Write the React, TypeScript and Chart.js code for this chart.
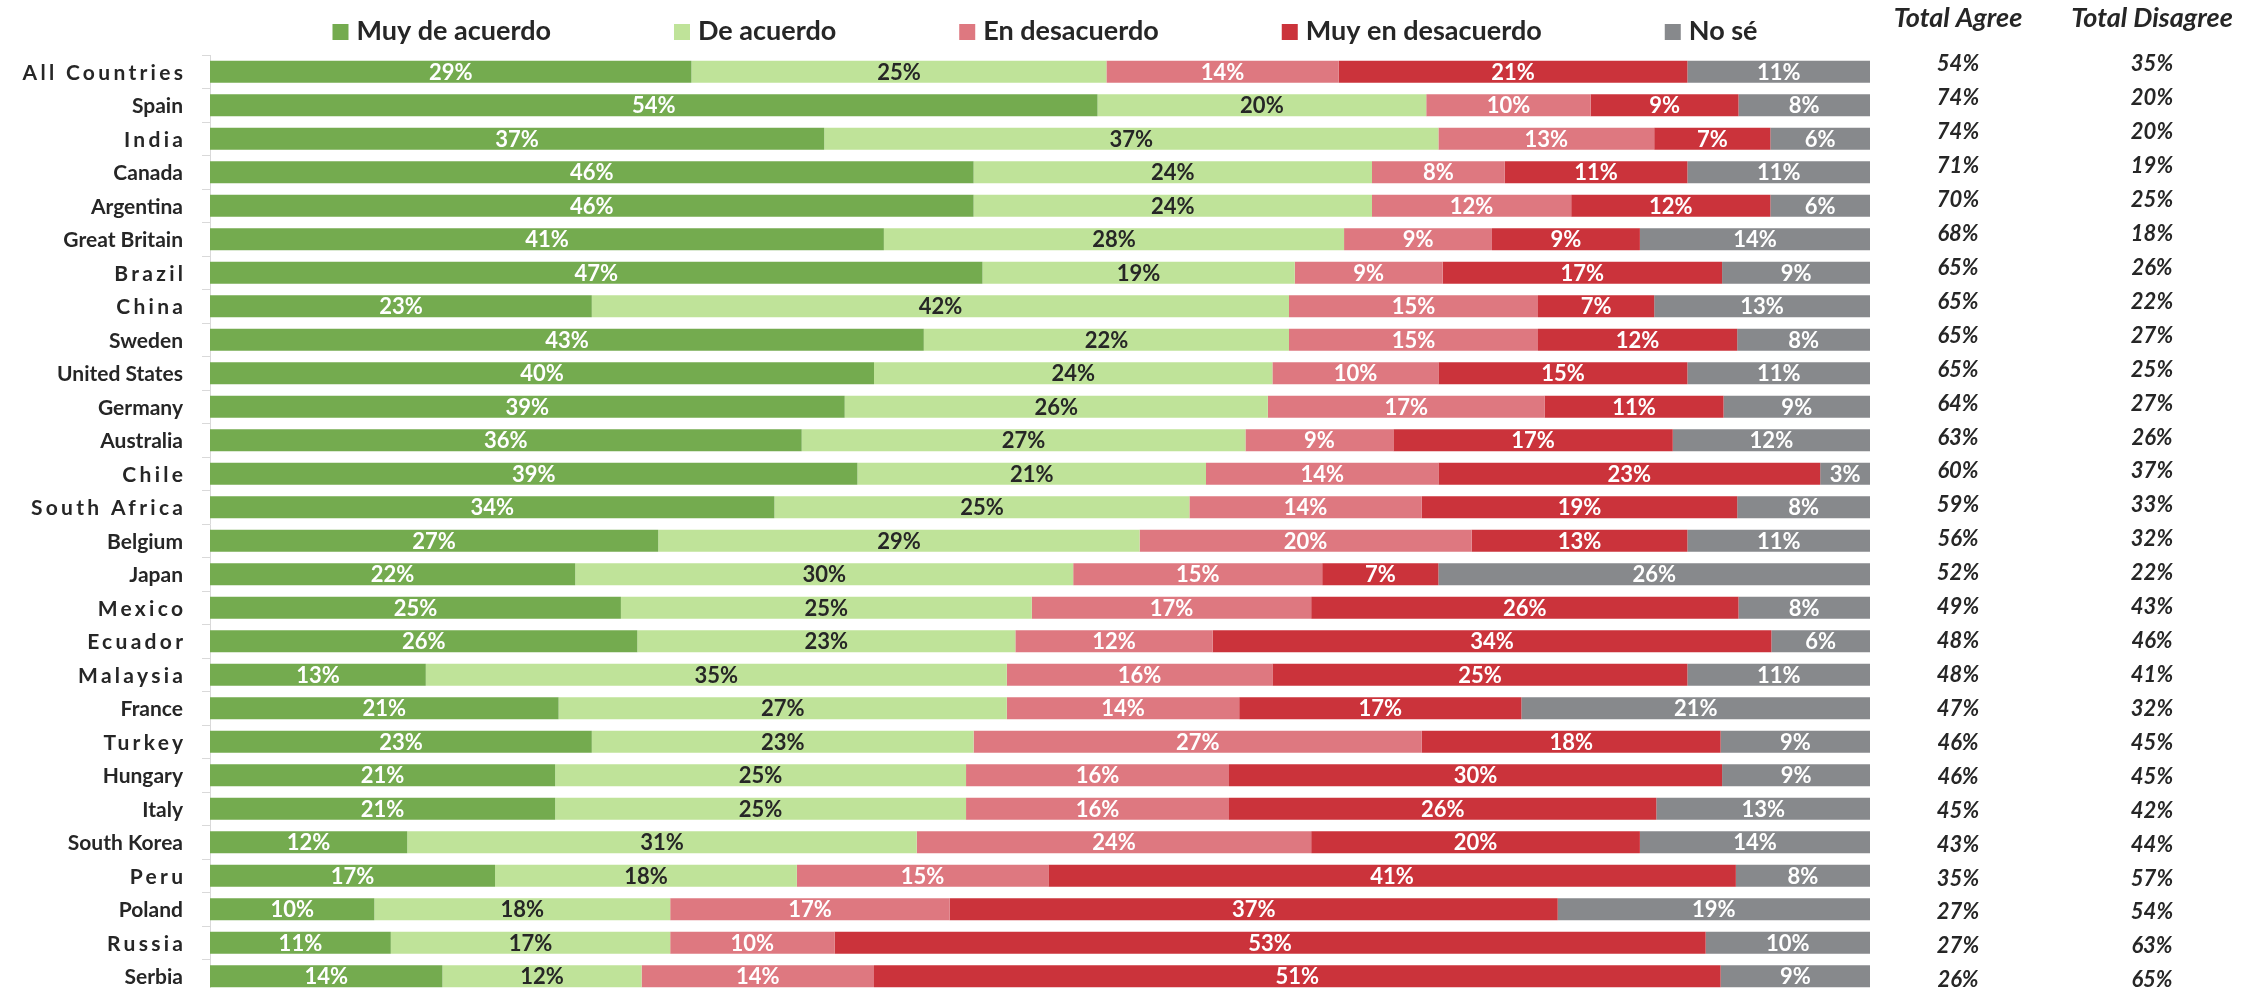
import React, { useEffect, useRef } from 'react';
import { Chart, registerables } from 'chart.js';

Chart.register(...registerables);

const countries = [
  'All Countries', 'Spain', 'India', 'Canada', 'Argentina', 'Great Britain', 'Brazil', 'China',
  'Sweden', 'United States', 'Germany', 'Australia', 'Chile', 'South Africa', 'Belgium', 'Japan',
  'Mexico', 'Ecuador', 'Malaysia', 'France', 'Turkey', 'Hungary', 'Italy', 'South Korea', 'Peru',
  'Poland', 'Russia', 'Serbia',
];
const muyDeAcuerdo = [29, 54, 37, 46, 46, 41, 47, 23, 43, 40, 39, 36, 39, 34, 27, 22, 25, 26, 13, 21, 23, 21, 21, 12, 17, 10, 11, 14];
const deAcuerdo = [25, 20, 37, 24, 24, 28, 19, 42, 22, 24, 26, 27, 21, 25, 29, 30, 25, 23, 35, 27, 23, 25, 25, 31, 18, 18, 17, 12];
const enDesacuerdo = [14, 10, 13, 8, 12, 9, 9, 15, 15, 10, 17, 9, 14, 14, 20, 15, 17, 12, 16, 14, 27, 16, 16, 24, 15, 17, 10, 14];
const muyEnDesacuerdo = [21, 9, 7, 11, 12, 9, 17, 7, 12, 15, 11, 17, 23, 19, 13, 7, 26, 34, 25, 17, 18, 30, 26, 20, 41, 37, 53, 51];
const noSe = [11, 8, 6, 11, 6, 14, 9, 13, 8, 11, 9, 12, 3, 8, 11, 26, 8, 6, 11, 21, 9, 9, 13, 14, 8, 19, 10, 9];
const totalAgree = [54, 74, 74, 71, 70, 68, 65, 65, 65, 65, 64, 63, 60, 59, 56, 52, 49, 48, 48, 47, 46, 46, 45, 43, 35, 27, 27, 26];
const totalDisagree = [35, 20, 20, 19, 25, 18, 26, 22, 27, 25, 27, 26, 37, 33, 32, 22, 43, 46, 41, 32, 45, 45, 42, 44, 57, 54, 63, 65];

const seriesNames = ['Muy de acuerdo', 'De acuerdo', 'En desacuerdo', 'Muy en desacuerdo', 'No sé'];
const totalHeaders = ['Total Agree', 'Total Disagree'];

// styles
const seriesColors = ['#74AB4F', '#BFE399', '#DE7880', '#CB333B', '#87898C'];
const valueColors = ['#FFFFFF', '#262626', '#FFFFFF', '#FFFFFF', '#FFFFFF'];
const trackedLabels = ['All Countries', 'India', 'Brazil', 'China', 'Chile', 'South Africa', 'Mexico', 'Ecuador', 'Malaysia', 'Turkey', 'Peru', 'Russia'];
const FONT = 'Lato, "Open Sans", "DejaVu Sans", sans-serif';
const TEXT = '#262626';

const allSeries = [muyDeAcuerdo, deAcuerdo, enDesacuerdo, muyEnDesacuerdo, noSe];

const overlayPlugin = {
  id: 'overlay',
  afterDatasetsDraw(chart: any) {
    const ctx = chart.ctx;
    ctx.save();
    ctx.font = `bold 22px ${FONT}`;
    ctx.textAlign = 'center';
    ctx.textBaseline = 'middle';
    chart.data.datasets.forEach((ds: any, di: number) => {
      const meta = chart.getDatasetMeta(di);
      meta.data.forEach((bar: any, i: number) => {
        const x = (bar.x + bar.base) / 2;
        ctx.fillStyle = valueColors[di];
        ctx.fillText(ds.rawValues[i] + '%', x, bar.y + 1);
      });
    });
    ctx.restore();
  },
  afterDraw(chart: any) {
    const ctx = chart.ctx;
    const yScale = chart.scales.y;
    const area = chart.chartArea;
    ctx.save();

    // category labels
    ctx.font = `bold 21px ${FONT}`;
    ctx.textAlign = 'right';
    ctx.textBaseline = 'middle';
    ctx.fillStyle = TEXT;
    (chart.data.labels as string[]).forEach((lab, i) => {
      const y = yScale.getPixelForValue(i);
      const sp = trackedLabels.includes(lab) ? 3.3 : 0;
      ctx.letterSpacing = sp + 'px';
      ctx.fillText(lab, area.left - 27 + sp, y + 1);
    });
    ctx.letterSpacing = '0px';

    // legend
    ctx.font = `bold 27px ${FONT}`;
    ctx.textAlign = 'left';
    ctx.textBaseline = 'alphabetic';
    const box = 16, boxGap = 8, itemGap = 123;
    const widths = seriesNames.map((n) => ctx.measureText(n).width);
    const total = widths.reduce((a, w) => a + box + boxGap + w, 0) + itemGap * (seriesNames.length - 1);
    let lx = (area.left + area.right) / 2 + 5 - total / 2;
    seriesNames.forEach((n, i) => {
      ctx.fillStyle = chart.data.datasets[i].backgroundColor;
      ctx.fillRect(lx, 24, box, box);
      ctx.fillStyle = TEXT;
      ctx.fillText(n, lx + box + boxGap, 40);
      lx += box + boxGap + widths[i] + itemGap;
    });

    // totals table
    const colX = [area.right + 88, area.right + 282];
    ctx.textAlign = 'center';
    ctx.font = `italic bold 27px ${FONT}`;
    totalHeaders.forEach((h, c) => ctx.fillText(h, colX[c], 27));
    ctx.font = `italic bold 22px ${FONT}`;
    ctx.textBaseline = 'middle';
    const n = countries.length;
    countries.forEach((_, i) => {
      const y = yScale.getPixelForValue(i) - 7.5 + (i * 11.5) / (n - 1);
      ctx.fillText(totalAgree[i] + '%', colX[0], y);
      ctx.fillText(totalDisagree[i] + '%', colX[1], y);
    });
    ctx.restore();
  },
};

export default function App() {
  const ref = useRef<HTMLCanvasElement>(null);

  useEffect(() => {
    if (!ref.current) return;
    const sums = countries.map((_, i) => allSeries.reduce((a, s) => a + s[i], 0));
    const datasets = allSeries.map((s, k) => ({
      label: seriesNames[k],
      data: s.map((v, i) => (v / sums[i]) * 100),
      rawValues: s,
      backgroundColor: seriesColors[k],
      borderWidth: 0,
      barPercentage: 0.66,
      categoryPercentage: 1,
    }));
    const chart = new Chart(ref.current, {
      type: 'bar',
      data: { labels: countries, datasets: datasets as any },
      options: {
        indexAxis: 'y',
        animation: false,
        responsive: false,
        devicePixelRatio: 1,
        layout: { padding: { top: 55, bottom: 7, right: 387, left: 0 } },
        plugins: { legend: { display: false }, tooltip: { enabled: false } },
        scales: {
          x: { stacked: true, min: 0, max: 100, display: false },
          y: {
            stacked: true,
            afterFit: (scale: any) => { scale.width = 210; },
            ticks: { display: false },
            grid: { display: true, drawOnChartArea: false, drawTicks: true, tickLength: 8, color: '#D9D9D9', offset: true },
            border: { display: true, color: '#D9D9D9' },
          },
        },
      },
      plugins: [overlayPlugin],
    });
    return () => chart.destroy();
  }, []);

  return (
    <div style={{ position: 'fixed', left: 0, top: 0, width: 2257, height: 988, overflow: 'hidden', background: '#fff' }}>
      <canvas ref={ref} width={2257} height={1000} style={{ width: 2257, height: 1000, display: 'block' }} />
    </div>
  );
}
